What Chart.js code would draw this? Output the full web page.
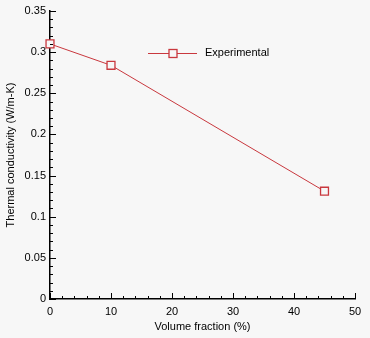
<!DOCTYPE html>
<html><head><meta charset="utf-8">
<script src="https://cdn.jsdelivr.net/npm/chart.js@4/dist/chart.umd.min.js"></script>
<style>html,body{margin:0;padding:0;background:#f7f7f7;}#w{width:370px;height:338px;}</style>
</head><body><div id="w"><canvas id="c" width="370" height="338"></canvas></div>
<script>
const volumeFraction = [0, 10, 45];
const conductivity = [0.310, 0.284, 0.131];
const seriesName = "Experimental";
const xTitle = "Volume fraction (%)";
const yTitle = "Thermal conductivity (W/m-K)";
const RED = "#c9383e";
const BG = "#f7f7f7";
const FONT = "'Liberation Sans', Arial, sans-serif";

const tickPlugin = {
  id: 'ticksIn',
  beforeDraw(chart){
    const ctx = chart.ctx;
    ctx.save(); ctx.fillStyle = BG; ctx.fillRect(0,0,chart.width,chart.height); ctx.restore();
  },
  afterDatasetsDraw(chart){
    const ctx = chart.ctx, xs = chart.scales.x, ys = chart.scales.y, a = chart.chartArea;
    ctx.save();
    ctx.strokeStyle = '#000'; ctx.lineWidth = 1;
    for (let i = 0; i <= 25; i++){
      const v = i*2, px = Math.round(xs.getPixelForValue(v)) + 0.5;
      const len = (v % 10 === 0) ? 6 : 3;
      ctx.beginPath(); ctx.moveTo(px, a.bottom); ctx.lineTo(px, a.bottom - len); ctx.stroke();
    }
    for (let i = 0; i <= 35; i++){
      const v = i/100, py = Math.round(ys.getPixelForValue(v)) + 0.5;
      const len = (i % 5 === 0) ? 6 : 3;
      ctx.beginPath(); ctx.moveTo(a.left, py); ctx.lineTo(a.left + len, py); ctx.stroke();
    }
    // legend
    const ly = 53, lx0 = 148, lx1 = 197;
    ctx.strokeStyle = RED; ctx.lineWidth = 1;
    ctx.beginPath(); ctx.moveTo(lx0, ly + 0.5); ctx.lineTo(lx1, ly + 0.5); ctx.stroke();
    ctx.fillStyle = BG; ctx.lineWidth = 1.3;
    ctx.fillRect(169, ly - 3.5, 8, 8); ctx.strokeRect(169, ly - 3.5, 8, 8);
    ctx.fillStyle = '#000'; ctx.font = "11px " + FONT; ctx.textBaseline = 'middle'; ctx.textAlign = 'left';
    ctx.fillText(seriesName, 205, ly);
    ctx.restore();
  }
};

new Chart(document.getElementById('c'), {
  type: 'line',
  data: { datasets: [{
    label: seriesName,
    data: volumeFraction.map((x,i)=>({x, y: conductivity[i]})),
    borderColor: RED, borderWidth: 1, backgroundColor: BG,
    pointStyle: 'rect', pointRadius: 5.6, pointBorderWidth: 1.3,
    pointBackgroundColor: BG, pointBorderColor: RED, tension: 0, clip: false
  }]},
  options: {
    responsive: false, animation: false, devicePixelRatio: 1,
    layout: { padding: { top: 11, right: 15, left: 0, bottom: 0 } },
    plugins: { legend: { display: false }, tooltip: { enabled: false } },
    scales: {
      x: { type: 'linear', min: 0, max: 50,
        grid: { display: false, drawTicks: false },
        border: { display: true, color: '#000', width: 1.5 },
        ticks: { stepSize: 10, color: '#000', font: { family: FONT, size: 11 }, padding: 6, maxRotation: 0 },
        title: { display: true, text: xTitle, color: '#000', font: { family: FONT, size: 11 }, padding: { top: 4 } },
        afterFit(s){ s.height = 39; }
      },
      y: { type: 'linear', min: 0, max: 0.35,
        grid: { display: false, drawTicks: false },
        border: { display: true, color: '#000', width: 1.5 },
        ticks: { stepSize: 0.05, color: '#000', font: { family: FONT, size: 11 }, padding: 4,
          callback: v => String(Number(v.toFixed(2))) },
        title: { display: true, text: yTitle, color: '#000', font: { family: FONT, size: 11 }, padding: { bottom: 4 } },
        afterFit(s){ s.width = 50; }
      }
    }
  },
  plugins: [tickPlugin]
});
</script></body></html>
